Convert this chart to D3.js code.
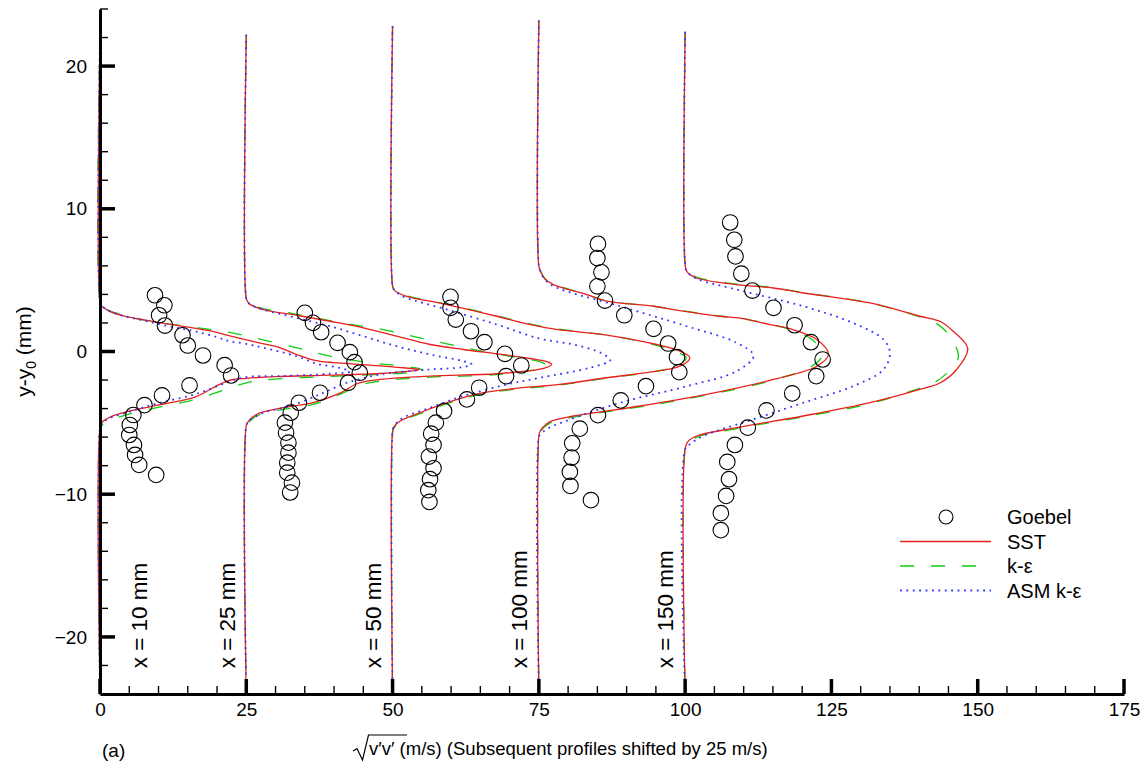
<!DOCTYPE html>
<html>
<head>
<meta charset="utf-8">
<title>v'v' profiles</title>
<script src="https://cdn.jsdelivr.net/npm/d3@7/dist/d3.min.js"></script>
<style>
  body { margin: 0; background: #fff; }
  text { font-family: "Liberation Sans", Arial, Helvetica, sans-serif; fill: #000; }
</style>
</head>
<body>
<div id="chart"></div>
<script>
// stations, shift of each profile (m/s) and where the station label sits
var shifts = [0, 25, 50, 75, 100]
var stations = ["x = 10 mm", "x = 25 mm", "x = 50 mm", "x = 100 mm", "x = 150 mm"]
var labelAt = [8, 23, 48, 73, 98]
var tops = [22.3, 22.2, 22.8, 23.2, 22.4]
var bottom = -24

var xTicks = [0, 25, 50, 75, 100, 125, 150, 175]
var yTicks = [-20, -10, 0, 10, 20]

// SST  [sqrt(v'v'), y-y0]
var sst = [
  [[0,3.5],[0.3,3.2],[1.5,2.85],[4,2.5],[7.7,2.2],[13.4,1.82],[19.1,1.42],[22.2,1.1],[27,0.62],[30.8,0.26],[33.6,-0.21],[36.5,-0.6],[40,-0.78],[45,-0.92],[51.8,-1.14],[54.6,-1.28],[51,-1.45],[47.9,-1.54],[39.3,-1.66],[30,-1.76],[25,-1.88],[22.5,-1.98],[20.2,-2.35],[16.2,-3.2],[10.5,-3.71],[4.8,-4.2],[2,-4.55],[0.4,-4.95],[0,-5.4]],
  [[0,3.7],[0.3,3.45],[0.64,3.3],[2.9,2.94],[8.6,2.54],[14.3,2.12],[20,1.66],[25.7,1.07],[31.4,0.49],[37.1,0.14],[42.8,-0.16],[48.5,-0.49],[51.5,-0.72],[52.2,-0.9],[50.8,-1.19],[42.8,-1.56],[31.4,-1.72],[22.9,-1.96],[18.9,-2.26],[16,-2.92],[11.4,-3.59],[6.3,-3.94],[1.8,-4.4],[0.35,-4.9],[0,-5.2]],
  [[0,4.6],[0.3,4.3],[1,4.1],[2.4,3.87],[9.25,3.29],[17.8,2.47],[21.8,2.05],[27.2,1.6],[36.6,1.15],[45.1,0.49],[49.1,0.02],[50.8,-0.44],[49.1,-1.03],[45.1,-1.38],[36.6,-1.84],[28.6,-2.31],[20.6,-2.61],[14.9,-2.94],[9.3,-3.59],[4.7,-4.29],[1.3,-4.87],[0.2,-5.3],[0,-5.6]],
  [[0,6.0],[0.3,5.6],[1,5.1],[2.5,4.69],[8.2,3.99],[11.4,3.55],[19.6,3.17],[23,2.94],[31,2.47],[34.4,2.34],[39.5,1.89],[42.9,1.6],[47.5,0.84],[49.5,-0.21],[47.5,-1.03],[40.1,-1.96],[28.7,-3.0],[17.3,-3.82],[5.9,-4.52],[2,-4.9],[0.8,-5.27],[0.2,-5.6],[0,-5.9]],
  [[0,6.1],[0.3,5.6],[2,5.15],[8.8,4.69],[15.1,4.45],[20.2,4.1],[31.6,3.4],[40.1,2.47],[43.6,2.1],[45.8,1.42],[48.3,0.21],[46.4,-1.26],[43.6,-2.19],[40.1,-2.66],[31.6,-3.59],[20.2,-4.52],[8.8,-5.34],[2,-5.92],[0.5,-6.3],[0,-6.8]]
]

// k-epsilon
var ke = [
  [[0,3.45],[0.4,3.15],[2,2.8],[5.7,2.36],[10.5,2.0],[16.8,1.66],[22.5,1.31],[28,0.8],[34.2,0.2],[39.3,-0.33],[46.1,-0.79],[50.7,-0.98],[54,-1.15],[55.3,-1.32],[53.5,-1.45],[49,-1.58],[37,-1.78],[28,-2.0],[25,-2.2],[21.9,-2.6],[16.2,-3.36],[10.5,-3.87],[4.8,-4.4],[1.5,-4.85],[0.3,-5.2],[0,-5.5]],
  [[0,3.7],[0.3,3.45],[0.8,3.3],[2.9,3.0],[5.8,2.82],[11.5,2.38],[17.2,1.95],[23.4,1.54],[29.1,1.0],[34.3,0.54],[40,0.05],[46,-0.4],[50,-0.7],[51.4,-0.98],[49.5,-1.25],[42.8,-1.62],[31.4,-1.8],[24,-2.02],[20,-2.3],[16,-3.0],[11.4,-3.7],[6.3,-4.05],[1.8,-4.5],[0.35,-5.0],[0,-5.3]],
  [[0,4.6],[0.3,4.3],[1,4.12],[2.4,3.9],[9.25,3.32],[17.8,2.5],[21.8,2.08],[27.2,1.63],[36.6,1.15],[45,0.45],[48.4,0.0],[50.2,-0.45],[48.4,-1.02],[45,-1.4],[36.6,-1.86],[28.6,-2.35],[20.6,-2.66],[14.9,-3.0],[9.3,-3.66],[4.7,-4.36],[1.3,-4.95],[0.2,-5.4],[0,-5.7]],
  [[0,6.0],[0.3,5.6],[1,5.12],[2.5,4.72],[8.2,4.0],[11.4,3.55],[19.6,3.18],[23,2.95],[31,2.47],[34.4,2.34],[39.5,1.9],[42.5,1.6],[46.8,0.8],[48.4,-0.25],[46.6,-1.05],[40.1,-2.0],[28.7,-3.05],[17.3,-3.88],[5.9,-4.6],[2,-5.0],[0.8,-5.35],[0.2,-5.7],[0,-6.0]],
  [[0,6.1],[0.3,5.65],[2,5.2],[8.8,4.72],[15.1,4.47],[20.2,4.12],[31.6,3.4],[40.1,2.42],[42.8,2.0],[44.8,1.3],[46.7,-0.35],[45,-1.4],[42.5,-2.2],[39,-2.72],[31.6,-3.65],[20.2,-4.58],[8.8,-5.4],[2,-6.0],[0.5,-6.4],[0,-6.9]]
]

// ASM k-epsilon
var asm = [
  [[0,3.5],[0.3,3.2],[1.5,2.85],[4,2.5],[7.7,2.15],[12,1.75],[16.2,1.42],[20,1.0],[22.2,0.72],[24.8,0.55],[27.9,0.26],[33.6,-0.33],[37,-0.85],[41,-1.15],[42.7,-1.4],[39.3,-1.56],[30.8,-1.72],[24.8,-1.8],[21.9,-2.15],[16.2,-3.0],[9.7,-3.65],[4.8,-4.25],[1.5,-4.7],[0.3,-5.05],[0,-5.4]],
  [[0,3.7],[0.3,3.45],[0.64,3.3],[2.9,2.94],[8.6,2.35],[14.3,1.77],[20,1.07],[25.7,0.37],[31.4,-0.21],[37.1,-0.68],[38.5,-0.91],[37,-1.1],[31.4,-1.26],[22.9,-1.61],[17.2,-2.19],[13.2,-2.89],[7.5,-3.82],[2.9,-4.3],[0.35,-4.9],[0,-5.2]],
  [[0,4.6],[0.3,4.3],[1,4.05],[2.4,3.75],[9.3,2.94],[17.8,1.89],[25.2,0.9],[30.9,0.49],[35.6,-0.1],[37.2,-0.6],[33.7,-1.14],[25.2,-1.84],[19.5,-2.31],[12.1,-3.12],[6.4,-3.94],[1.3,-4.76],[0.2,-5.3],[0,-5.6]],
  [[0,6.0],[0.3,5.6],[1,5.05],[2.5,4.57],[13.9,3.17],[25.3,1.77],[33.8,0.61],[36.7,-0.3],[33.8,-1.38],[25.3,-2.43],[13.9,-3.59],[5.4,-4.76],[1.5,-5.4],[0.3,-5.8],[0,-6.0]],
  [[0,6.1],[0.3,5.6],[2,5.1],[8.8,4.34],[20.2,3.17],[28.7,2.0],[33.9,0.84],[35,-0.09],[33.9,-1.26],[28.7,-2.43],[20.2,-3.59],[11.6,-4.76],[3.1,-5.92],[0.8,-6.5],[0,-6.85]]
]

// Goebel measurements
var goebel = [
  [[9.4,3.94],[11.0,3.24],[10.1,2.54],[11.1,1.82],[14.1,1.14],[15.0,0.42],[17.6,-0.28],[21.3,-0.96],[22.4,-1.68],[15.3,-2.38],[10.6,-3.08],[7.6,-3.76],[5.7,-4.45],[5.1,-5.15],[5.0,-5.85],[5.8,-6.55],[6.0,-7.25],[6.7,-7.95],[9.6,-8.65]],
  [[10.0,2.71],[11.4,2.01],[12.8,1.35],[15.6,0.61],[17.7,-0.05],[18.5,-0.75],[19.4,-1.49],[17.4,-2.19],[12.6,-2.89],[9.0,-3.59],[7.6,-4.29],[6.6,-4.99],[6.8,-5.69],[7.2,-6.39],[7.2,-7.09],[7.0,-7.79],[7.0,-8.49],[7.8,-9.19],[7.5,-9.88]],
  [[9.9,3.83],[9.9,3.06],[10.8,2.24],[13.4,1.42],[15.7,0.65],[19.2,-0.16],[22.0,-0.98],[19.4,-1.73],[14.8,-2.54],[12.7,-3.36],[8.8,-4.17],[7.4,-4.99],[6.6,-5.76],[7.0,-6.55],[6.2,-7.36],[7.0,-8.18],[6.4,-8.95],[6.1,-9.72],[6.3,-10.54]],
  [[10.1,7.55],[10.0,6.55],[10.7,5.55],[10.0,4.57],[11.3,3.57],[14.6,2.54],[19.6,1.59],[22.1,0.56],[23.6,-0.40],[24.0,-1.45],[18.3,-2.43],[14.0,-3.43],[10.1,-4.46],[7.0,-5.41],[5.7,-6.43],[5.6,-7.43],[5.3,-8.44],[5.4,-9.42],[8.9,-10.42]],
  [[7.7,9.04],[8.4,7.83],[8.6,6.66],[9.6,5.45],[11.5,4.27],[15.1,3.06],[18.7,1.84],[21.5,0.65],[23.5,-0.56],[22.4,-1.73],[18.3,-2.94],[13.9,-4.13],[10.7,-5.34],[8.5,-6.55],[7.2,-7.74],[7.5,-8.95],[7.0,-10.12],[6.1,-11.33],[6.1,-12.52]]
]

var W = 1148, H = 772
var x = d3.scaleLinear().domain([0, 175]).range([100, 1124])
var y = d3.scaleLinear().domain([-24, 24]).range([694, 9])

var svg = d3.select("#chart").append("svg").attr("width", W).attr("height", H)

var models = [
  {data: ke, color: "#11cc11", width: 1.3, dash: "14,17"},
  {data: sst, color: "#e8201c", width: 1.3, dash: null},
  {data: asm, color: "#3535ff", width: 1.8, dash: "1.8,4.6"}
]

models.forEach(m => {
  m.data.forEach((pts, i) => {
    var s = shifts[i]
    var full = [[0, tops[i]]].concat(pts, [[0, bottom]])
    var line = d3.line()
      .x(d => x(d[0] + s))
      .y(d => y(d[1]))
      .curve(d3.curveCatmullRom.alpha(0.5))
    svg.append("path")
      .attr("d", line(full))
      .attr("fill", "none")
      .attr("stroke", m.color)
      .attr("stroke-width", m.width)
      .attr("stroke-dasharray", m.dash)
  })
})

goebel.forEach((pts, i) => {
  svg.append("g").selectAll("circle").data(pts).enter().append("circle")
    .attr("cx", d => x(d[0] + shifts[i]))
    .attr("cy", d => y(d[1]))
    .attr("r", 7.8)
    .attr("fill", "none")
    .attr("stroke", "#000")
    .attr("stroke-width", 1.1)
})

// station labels
stations.forEach((t, i) => {
  svg.append("text")
    .attr("transform", "translate(" + x(labelAt[i]) + "," + y(-22.2) + ") rotate(-90)")
    .attr("font-size", 22.5)
    .text(t)
})

// axes: labels from d3.axis, tick marks drawn inward as plain lines
var minorX = d3.range(0, 176, 5).filter(v => v % 25 != 0)
var minorY = d3.range(-22, 25, 2).filter(v => v % 10 != 0)

var gx = svg.append("g").attr("transform", "translate(0," + y(-24) + ")")
  .call(d3.axisBottom(x).tickValues(xTicks).tickSize(0).tickPadding(9))
var gy = svg.append("g").attr("transform", "translate(" + x(0) + ",0)")
  .call(d3.axisLeft(y).tickValues(yTicks).tickSize(0).tickPadding(13))
svg.selectAll(".domain").attr("stroke", "#000").attr("stroke-width", 3)
svg.selectAll(".tick text").attr("font-size", 19).attr("font-family", "Liberation Sans, Arial, sans-serif").attr("fill", "#000")

var tk = svg.append("g").attr("stroke", "#000")
tk.selectAll(".mx").data(minorX).enter().append("line")
  .attr("x1", d => x(d)).attr("x2", d => x(d)).attr("y1", y(-24)).attr("y2", y(-24) - 8).attr("stroke-width", 1.4)
tk.selectAll(".Mx").data(xTicks).enter().append("line")
  .attr("x1", d => x(d)).attr("x2", d => x(d)).attr("y1", y(-24)).attr("y2", y(-24) - 15).attr("stroke-width", 3.5)
tk.selectAll(".my").data(minorY).enter().append("line")
  .attr("y1", d => y(d)).attr("y2", d => y(d)).attr("x1", x(0)).attr("x2", x(0) + 8).attr("stroke-width", 1.4)
tk.selectAll(".My").data(yTicks).enter().append("line")
  .attr("y1", d => y(d)).attr("y2", d => y(d)).attr("x1", x(0)).attr("x2", x(0) + 15).attr("stroke-width", 3.5)

// axis titles
var yt = svg.append("text")
  .attr("transform", "translate(31," + y(0) + ") rotate(-90)")
  .attr("text-anchor", "middle")
  .attr("font-size", 21)
yt.append("tspan").text("y-y")
yt.append("tspan").attr("font-size", 14).attr("dy", 5).text("0")
yt.append("tspan").attr("dy", -5).text(" (mm)")

svg.append("text").attr("x", 102).attr("y", 757).attr("font-size", 19).text("(a)")
svg.append("path")
  .attr("d", "M353,751 L357,748.5 L362.5,760 L368.5,735 L407,735")
  .attr("fill", "none").attr("stroke", "#000").attr("stroke-width", 1.2)
svg.append("text").attr("x", 369).attr("y", 755).attr("font-size", 18.5).text("v\u2032v\u2032 (m/s) (Subsequent profiles shifted by 25 m/s)")

// legend
var lg = svg.append("g").attr("transform", "translate(900,517)")
var items = ["Goebel", "SST", "k-\u03b5", "ASM k-\u03b5"]
lg.append("circle").attr("cx", 46).attr("cy", 0).attr("r", 7).attr("fill", "none").attr("stroke", "#000").attr("stroke-width", 1.1)
models.forEach((m, i) => {
  var row = [2, 1, 3][i]
  lg.append("line").attr("x1", 0).attr("x2", 91).attr("y1", row * 24.5).attr("y2", row * 24.5)
    .attr("stroke", m.color).attr("stroke-width", m.width).attr("stroke-dasharray", m.dash)
})
items.forEach((t, i) => {
  lg.append("text").attr("x", 107).attr("y", i * 24.5 + 7).attr("font-size", 20).text(t)
})
</script>
</body>
</html>
